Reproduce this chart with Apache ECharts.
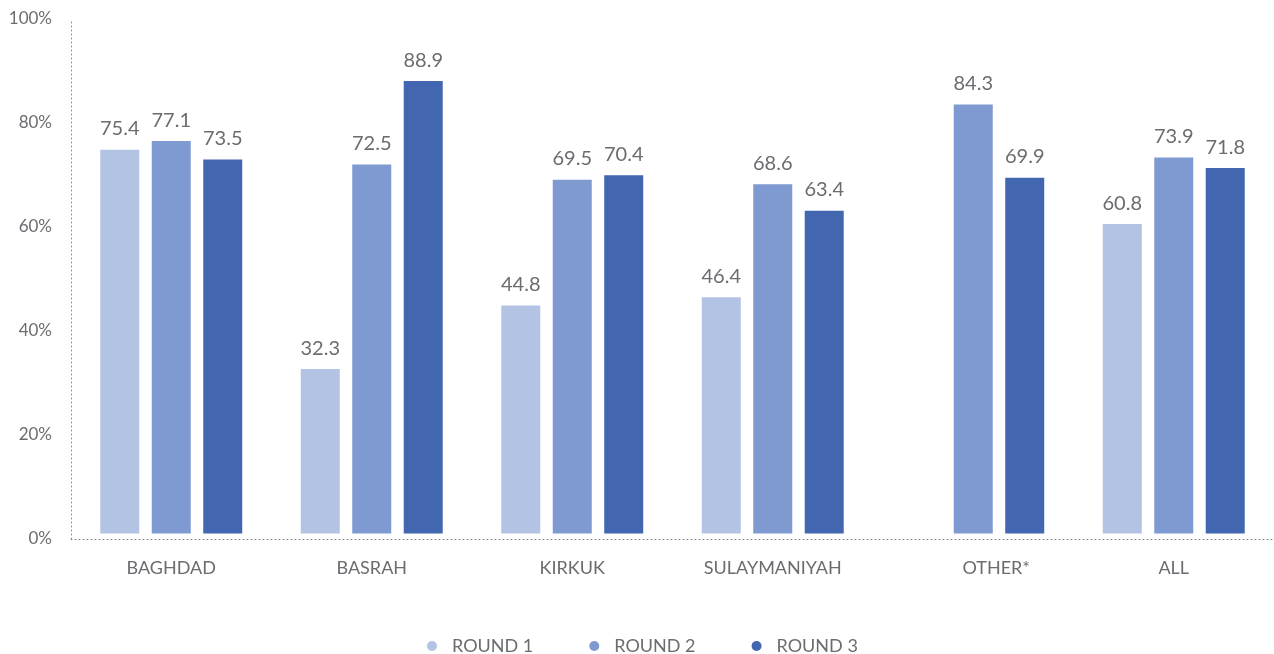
<!DOCTYPE html>
<html>
<head>
<meta charset="utf-8">
<script src="https://cdn.jsdelivr.net/npm/echarts@6/dist/echarts.min.js"></script>
<style>
html,body{margin:0;padding:0;background:#fff;}
#chart{width:1274px;height:654px;}
</style>
</head>
<body>
<div id="chart"></div>
<script>
const categories = ['BAGHDAD', 'BASRAH', 'KIRKUK', 'SULAYMANIYAH', 'OTHER*', 'ALL'];
const round1 = [75.4, 32.3, 44.8, 46.4, null, 60.8];
const round2 = [77.1, 72.5, 69.5, 68.6, 84.3, 73.9];
const round3 = [73.5, 88.9, 70.4, 63.4, 69.9, 71.8];
const seriesNames = ['ROUND 1', 'ROUND 2', 'ROUND 3'];
const yTicks = [0, 20, 40, 60, 80, 100];

const colors = ['#b3c3e3', '#7f99d1', '#4266b0'];
const FONT = 'Lato, "Open Sans", sans-serif';
const textColor = '#6b6c70';

const chart = echarts.init(document.getElementById('chart'));

function mkSeries(name, data, color) {
  return {
    name: name,
    type: 'bar',
    yAxisIndex: 1,
    data: data.map(v => v === null ? '-' : v),
    barWidth: 39,
    barGap: '32%',
    itemStyle: { color: color },
    label: {
      show: true,
      position: 'top',
      distance: 11,
      color: textColor,
      fontFamily: FONT,
      fontSize: 20,
      formatter: p => p.value.toFixed(1)
    },
    emphasis: { disabled: true },
    animation: false
  };
}

chart.setOption({
  animation: false,
  color: colors,
  grid: { left: 71, top: 19, bottom: 115, width: 1206 },
  legend: {
    top: 632,
    left: 422,
    icon: 'circle',
    itemWidth: 30,
    itemHeight: 10,
    itemGap: 56,
    textStyle: { color: textColor, fontFamily: FONT, fontSize: 18 },
    data: seriesNames
  },
  xAxis: {
    type: 'category',
    data: categories.map(c => c === 'OTHER*'
      ? { value: c, textStyle: { padding: [0, 0, 0, 46] } }
      : c),
    axisLine: { onZero: false, lineStyle: { color: '#8a8a8a', type: [1, 3], width: 1 } },
    axisTick: { show: false },
    axisLabel: { color: textColor, fontFamily: FONT, fontSize: 18, margin: 20 }
  },
  yAxis: [
    {
      type: 'value',
      min: 0, max: 100, interval: 20,
      axisLine: { show: true, lineStyle: { color: '#8a8a8a', type: [1, 3], width: 1 } },
      axisTick: { show: false },
      splitLine: { show: false },
      axisLabel: { color: textColor, fontFamily: FONT, fontSize: 17, margin: 19,
        formatter: v => yTicks.includes(v) ? v + '%' : '' }
    },
    {
      type: 'value',
      min: -1.1, max: 101.1,
      show: false,
      splitLine: { show: false }
    }
  ],
  series: [
    mkSeries(seriesNames[0], round1, colors[0]),
    mkSeries(seriesNames[1], round2, colors[1]),
    mkSeries(seriesNames[2], round3, colors[2])
  ]
});
</script>
</body>
</html>
